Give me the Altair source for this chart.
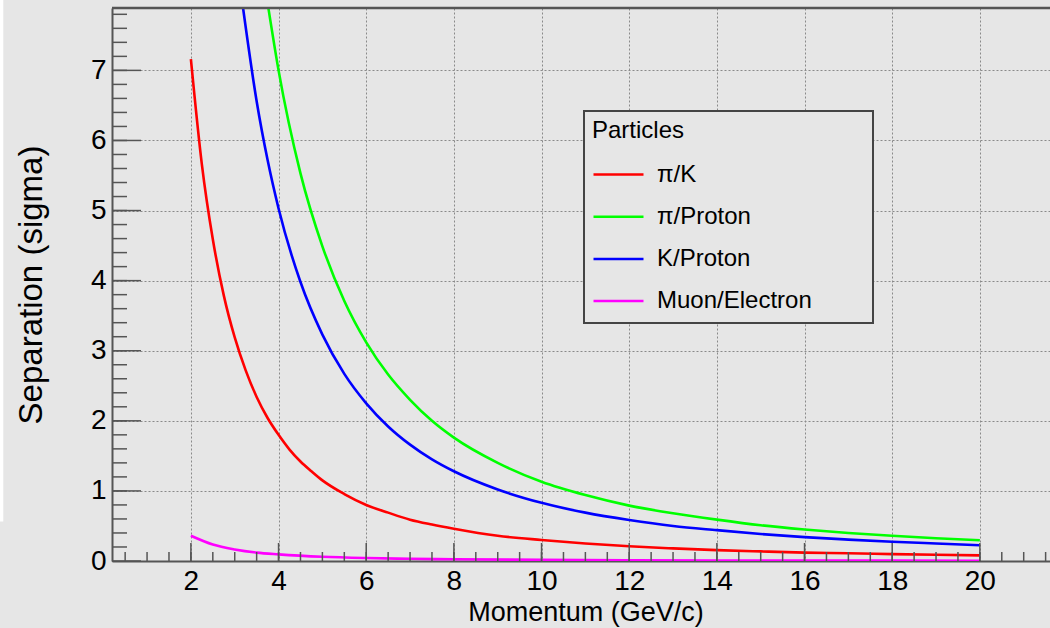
import altair as alt
import pandas as pd

# ---------------- data ----------------
series_names = ["π/K", "π/Proton", "K/Proton", "Muon/Electron"]
series_colors = ["#ff0000", "#00ff00", "#0000ff", "#ff00ff"]

p_pik = [2, 2.25, 2.5, 2.75, 3, 3.25, 3.5, 3.75, 4, 4.25, 4.5, 4.75, 5, 5.5, 6, 6.5, 7, 7.5, 8,
         9, 10, 11, 12, 13, 14, 15, 16, 17, 18, 19, 20]
sep_pik = [7.16, 5.66, 4.59, 3.79, 3.19, 2.72, 2.34, 2.04, 1.80, 1.59, 1.42, 1.28, 1.15, 0.955,
           0.80, 0.69, 0.59, 0.52, 0.46, 0.36, 0.30, 0.25, 0.21, 0.18, 0.155, 0.137, 0.12,
           0.11, 0.098, 0.089, 0.08]

p_piproton = [3.77, 4, 4.5, 5, 5.5, 6, 6.5, 7, 7.5, 8,
              9, 10, 11, 12, 13, 14, 15, 16, 17, 18, 19, 20]
sep_piproton = [7.88, 7.0, 5.53, 4.49, 3.71, 3.12, 2.66, 2.30, 2.00, 1.76,
                1.40, 1.13, 0.94, 0.79, 0.68, 0.59, 0.51, 0.45, 0.40, 0.36, 0.325, 0.295]

p_kproton = [3.19, 3.5, 3.75, 4, 4.5, 5, 5.5, 6, 6.5, 7, 7.5, 8,
             9, 10, 11, 12, 13, 14, 15, 16, 17, 18, 19, 20]
sep_kproton = [7.89, 6.56, 5.72, 5.03, 3.98, 3.23, 2.67, 2.25, 1.92, 1.66, 1.45, 1.28,
               1.02, 0.83, 0.69, 0.585, 0.50, 0.44, 0.385, 0.34, 0.305, 0.275, 0.25, 0.225]

p_muel = [2, 2.5, 3, 3.5, 4, 5, 6, 7, 8, 10, 12, 14, 16, 18, 20]
sep_muel = [0.36, 0.235, 0.165, 0.12, 0.095, 0.06, 0.042, 0.032, 0.025, 0.016,
            0.011, 0.008, 0.006, 0.005, 0.004]

x_label_values = [2, 4, 6, 8, 10, 12, 14, 16, 18, 20]
y_label_values = [0, 1, 2, 3, 4, 5, 6, 7]
x_minor_ticks = [0.5 * i for i in range(1, 44)]
y_minor_ticks = [round(0.2 * i, 1) for i in range(1, 40)]

# ---------------- tables ----------------
rows = []
for name, ps, vs in zip(series_names,
                        [p_pik, p_piproton, p_kproton, p_muel],
                        [sep_pik, sep_piproton, sep_kproton, sep_muel]):
    for p, v in zip(ps, vs):
        rows.append({"series": name, "p": p, "sep": v})
df = pd.DataFrame(rows)

xminor_df = pd.DataFrame({"p": x_minor_ticks})
xmajor_df = pd.DataFrame({"p": x_label_values})
yminor_df = pd.DataFrame({"sep": y_minor_ticks})
ymajor_df = pd.DataFrame({"sep": y_label_values})
one = pd.DataFrame({"a": [0]})

W, H = 938, 553
BG = "#e6e6e6"
AXC = "#555555"
FONT = "Liberation Sans"

xscale = alt.Scale(domain=[0.2, 21.6], nice=False, zero=False)
yscale = alt.Scale(domain=[0, 7.89], nice=False, zero=False)

x_axis = alt.Axis(
    values=x_label_values, format="d", grid=True, gridColor="#8a8a8a",
    gridDash=[2, 2], gridWidth=1, ticks=False, tickSize=0,
    domain=True, domainColor=AXC, domainWidth=2,
    labelFont=FONT, labelFontSize=28, labelColor="black", labelPadding=6,
    labelFlush=False, labelOverlap=False,
    title="Momentum (GeV/c)", titleFont=FONT, titleFontSize=27,
    titleFontWeight="normal", titleColor="black",
    titleX=473.5, titleY=59, titleBaseline="alphabetic")
y_axis = alt.Axis(
    values=y_label_values, format="d", grid=True, gridColor="#8a8a8a",
    gridDash=[2, 2], gridWidth=1, ticks=False, tickSize=0,
    domain=True, domainColor=AXC, domainWidth=2,
    labelFont=FONT, labelFontSize=28, labelColor="black", labelPadding=6,
    labelFlush=False, labelOverlap=False,
    title="Separation (sigma)", titleFont=FONT, titleFontSize=33,
    titleFontWeight="normal", titleColor="black",
    titleX=-81, titleY=H / 2, titleBaseline="middle")

lines = alt.Chart(df).mark_line(clip=True, strokeWidth=2.6, interpolate="monotone").encode(
    x=alt.X("p:Q", scale=xscale, axis=x_axis),
    y=alt.Y("sep:Q", scale=yscale, axis=y_axis),
    color=alt.Color("series:N",
                    scale=alt.Scale(domain=series_names, range=series_colors),
                    legend=alt.Legend(
                        title="Particles", orient="none", legendX=480, legendY=111,
                        direction="vertical", symbolType="stroke", symbolSize=2500,
                        symbolStrokeWidth=2.5, labelFont=FONT, labelFontSize=24,
                        titleFont=FONT, titleFontSize=24, titleFontWeight="normal",
                        titleColor="black", labelColor="black", labelOffset=12,
                        rowPadding=3.2, titlePadding=5, padding=0, symbolOffset=0,
                        labelLimit=400)),
)

frame = alt.Chart(one).mark_rect(fill=BG, stroke="#444444", strokeWidth=2).encode(
    x=alt.value(472), x2=alt.value(761), y=alt.value(103), y2=alt.value(315))

xminor = alt.Chart(xminor_df).mark_rule(color=AXC, strokeWidth=1.5).encode(
    x=alt.X("p:Q", scale=xscale, axis=x_axis), y=alt.value(H), y2=alt.value(H - 9))
xmajor = alt.Chart(xmajor_df).mark_rule(color=AXC, strokeWidth=1.5).encode(
    x=alt.X("p:Q", scale=xscale, axis=x_axis), y=alt.value(H), y2=alt.value(H - 18))
yminor = alt.Chart(yminor_df).mark_rule(color=AXC, strokeWidth=1.5).encode(
    y=alt.Y("sep:Q", scale=yscale, axis=y_axis), x=alt.value(0), x2=alt.value(15))
ymajor = alt.Chart(ymajor_df).mark_rule(color=AXC, strokeWidth=1.5).encode(
    y=alt.Y("sep:Q", scale=yscale, axis=y_axis), x=alt.value(0), x2=alt.value(29))

border = alt.Chart(one).mark_rule(color=AXC, strokeWidth=2.5).encode(
    x=alt.value(0), x2=alt.value(W), y=alt.value(0))

strip = alt.Chart(one).mark_rect(fill="white").encode(
    x=alt.value(-112), x2=alt.value(-108.7), y=alt.value(-8), y2=alt.value(513.5))

chart = alt.layer(lines, frame, xminor, xmajor, yminor, ymajor, border, strip).properties(
    width=W, height=H,
    autosize=alt.AutoSizeParams(type="none"),
    padding={"left": 112, "top": 8, "right": 0, "bottom": 67},
).configure(background=BG).configure_view(strokeWidth=0)

chart.save("out.html", embed_options={"renderer": "svg", "actions": False})
